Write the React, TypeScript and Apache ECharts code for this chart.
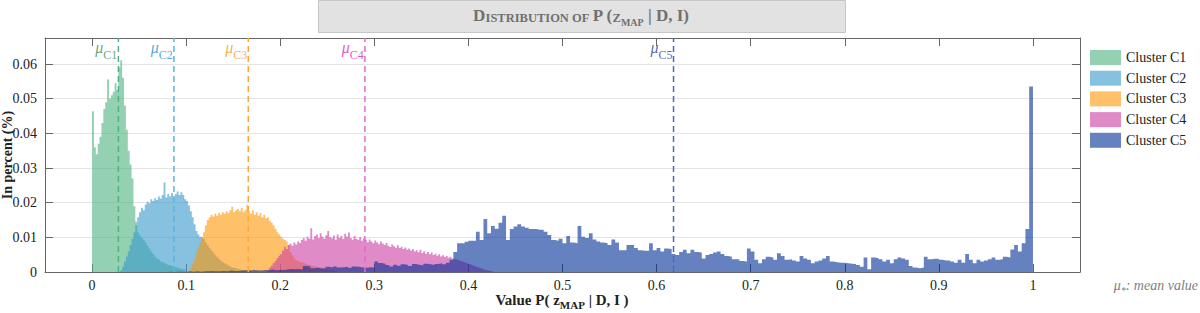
import React, { useEffect, useRef } from "react";
import * as echarts from "echarts";

const SERIF = "Liberation Serif";

const X_TICKS = [0, 0.1, 0.2, 0.3, 0.4, 0.5, 0.6, 0.7, 0.8, 0.9, 1];
const X_MIN = -0.05;
const X_MAX = 1.05;
const Y_MAX = 0.0675;

const CLUSTERS = ["Cluster C1", "Cluster C2", "Cluster C3", "Cluster C4", "Cluster C5"];
const MEAN_SUBS = ["C1", "C2", "C3", "C4", "C5"];
const MEANS = [0.028, 0.087, 0.166, 0.29, 0.618];

// Cluster C1 histogram: bins of 0.002 starting at 0
const C1_START = 0;
const C1_BIN = 0.002;
const C1 = [
  0.0464, 0.036, 0.034, 0.037, 0.039, 0.043, 0.047, 0.049, 0.0555, 0.05,
  0.051, 0.052, 0.0545, 0.0525, 0.059, 0.0611, 0.056, 0.048, 0.041, 0.035,
  0.031, 0.027, 0.019, 0.0145, 0.0115, 0.0105, 0.0098, 0.0092, 0.0085, 0.0076,
  0.0068, 0.006, 0.0052, 0.0045, 0.004, 0.0036, 0.0031, 0.0028, 0.0026, 0.0023,
  0.002, 0.0018, 0.0016, 0.0014, 0.0013, 0.0011, 0.001, 0.0008, 0.0007, 0.0006,
];

// Cluster C2: bins of 0.002 starting at 0.03
const C2_START = 0.03;
const C2_BIN = 0.002;
const C2 = [
  0.0005, 0.0015, 0.003, 0.0045, 0.006, 0.0078, 0.0095, 0.0115, 0.0135, 0.0158,
  0.0172, 0.0185, 0.0178, 0.0195, 0.0203, 0.0198, 0.021, 0.0205, 0.0213, 0.0208,
  0.0218, 0.0212, 0.0222, 0.0258, 0.0215, 0.0225, 0.0218, 0.0228, 0.0215, 0.0225,
  0.0232, 0.0222, 0.023, 0.0222, 0.021, 0.0205, 0.0192, 0.0175, 0.0158, 0.0138,
  0.0118, 0.0108, 0.0102, 0.01, 0.0095, 0.0086, 0.0078, 0.007, 0.0063, 0.0056,
  0.0049, 0.0044, 0.0038, 0.0033, 0.0029, 0.0025, 0.0022, 0.0019, 0.0016, 0.0013,
  0.0012, 0.001, 0.0009, 0.0007, 0.0006, 0.0005, 0.0004, 0.0003, 0.0003, 0.0002,
];

// Cluster C3: bins of 0.002 starting at 0.104
const C3_START = 0.104;
const C3_BIN = 0.002;
const C3 = [
  0.001, 0.0022, 0.0038, 0.0055, 0.0072, 0.0085, 0.0098, 0.0115, 0.0135, 0.015,
  0.0158, 0.0165, 0.016, 0.0168, 0.0162, 0.017, 0.0165, 0.0172, 0.0168, 0.0175,
  0.017, 0.0178, 0.0188, 0.0172, 0.0178, 0.0182, 0.0175, 0.0185, 0.0172, 0.0178,
  0.0194, 0.0175, 0.0168, 0.0178, 0.0165, 0.0172, 0.0162, 0.017, 0.0158, 0.0165,
  0.0155, 0.0158, 0.0148, 0.0142, 0.0135, 0.0125, 0.0115, 0.0108, 0.0102, 0.0096,
  0.0092, 0.0088, 0.0078, 0.0058, 0.0048, 0.004, 0.0035, 0.0032, 0.0029, 0.0027,
  0.0025, 0.0023, 0.0021, 0.002, 0.0018, 0.0017, 0.0016, 0.0015, 0.0014, 0.0013,
  0.0011, 0.001, 0.0008, 0.0006, 0.0005, 0.0004, 0.0003, 0.0002,
];

// Cluster C4: bins of 0.002 starting at 0.186
const C4_START = 0.186;
const C4_BIN = 0.002;
const C4 = [
  0.0005, 0.0012, 0.0018, 0.0025, 0.0032, 0.004, 0.0047, 0.0052, 0.0062, 0.0073,
  0.0066, 0.0078, 0.0082, 0.0076, 0.0085, 0.0079, 0.0088, 0.0084, 0.0092, 0.0098,
  0.009, 0.0102, 0.0096, 0.0126, 0.0094, 0.0104, 0.0108, 0.0098, 0.0112, 0.0102,
  0.0096, 0.0106, 0.0118, 0.0101, 0.0097, 0.0105, 0.0093, 0.0108, 0.0099, 0.0104,
  0.0095, 0.011, 0.0102, 0.0114, 0.0098, 0.0093, 0.0104, 0.0096, 0.0092, 0.0101,
  0.009, 0.0097, 0.0093, 0.0086, 0.0094, 0.0088, 0.0083, 0.0091, 0.0085, 0.008,
  0.0088, 0.0082, 0.0078, 0.0084, 0.0076, 0.0072, 0.0079, 0.0074, 0.007, 0.0077,
  0.0069, 0.0073, 0.0066, 0.0071, 0.0064, 0.0068, 0.0062, 0.0066, 0.0059, 0.0063,
  0.0057, 0.0064, 0.0055, 0.006, 0.0053, 0.0058, 0.0051, 0.0056, 0.0049, 0.0053,
  0.0047, 0.0051, 0.0045, 0.0048, 0.0043, 0.0046, 0.0041, 0.0044, 0.0039, 0.0037,
  0.0036, 0.0034, 0.0032, 0.003, 0.0028, 0.0026, 0.0024, 0.0022, 0.002, 0.0018,
  0.0016, 0.0014, 0.0012, 0.001, 0.0008, 0.0006, 0.0005, 0.0004, 0.0003, 0.0002,
];

// Cluster C5: bins of 0.004 starting at 0
const C5_START = 0;
const C5_BIN = 0.004;
const C5 = [
  0, 0, 0, 0, 0, 0, 0, 0, 0, 0,
  0, 0, 0, 0, 0, 0, 0, 0, 0, 0,
  0.0001, 0, 0.0001, 0.0001, 0, 0.0002, 0.0001, 0.0002, 0.0001, 0.0002,
  0.0002, 0.0003, 0.0002, 0.0002, 0.0003, 0.0002, 0.0004, 0.0003, 0.0003, 0.0004,
  0.0005, 0.0004, 0.0006, 0.0005, 0.0004, 0.0006, 0.0005, 0.0007, 0.0005, 0.0006,
  0.0006, 0.0007, 0.0009, 0.0008, 0.0009, 0.0007, 0.0017, 0.0016, 0.0011, 0.0012,
  0.001, 0.0011, 0.0015, 0.0013, 0.0016, 0.0013, 0.0014, 0.0015, 0.0012, 0.0016,
  0.0015, 0.0013, 0.0012, 0.0014, 0.0013, 0.003, 0.0026, 0.0024, 0.002, 0.0016,
  0.0021, 0.0018, 0.0022, 0.002, 0.0017, 0.0023, 0.0021, 0.0019, 0.0024, 0.0022,
  0.002, 0.0023, 0.0025, 0.0022, 0.0027, 0.0035, 0.0058,
  0.0083, 0.0083, 0.0087, 0.009, 0.009, 0.0116, 0.0092, 0.0153, 0.0112, 0.0133,
  0.0125, 0.0142, 0.0162, 0.0092, 0.0124, 0.0131, 0.0138, 0.0131, 0.0128, 0.0124,
  0.0124, 0.0122, 0.0122, 0.0116, 0.0107, 0.0092, 0.009, 0.0096, 0.0083, 0.0104,
  0.0085, 0.0083, 0.0133, 0.0102, 0.0098, 0.0112, 0.0094, 0.0088, 0.0085, 0.0083,
  0.0078, 0.0094, 0.0085, 0.0063, 0.0063, 0.0078, 0.0078, 0.0069, 0.0063, 0.0061,
  0.0061, 0.0083, 0.0063,
  0.0069, 0.0059, 0.0068, 0.0066, 0.0052, 0.0049, 0.0058, 0.0064, 0.0054, 0.0064,
  0.0058, 0.0056, 0.0039, 0.0049, 0.0052, 0.0056, 0.0059, 0.0052, 0.0046, 0.0044,
  0.0037, 0.0037, 0.0032, 0.003, 0.0068, 0.0059, 0.0035, 0.0025, 0.0037, 0.0044,
  0.0042, 0.0035, 0.0054, 0.0046, 0.0035, 0.0037, 0.0033, 0.003, 0.0046, 0.0039,
  0.0035, 0.0025, 0.003, 0.0033, 0.0039, 0.0046, 0.003, 0.0028, 0.0027, 0.0027,
  0.0025, 0.0024, 0.0023, 0.002, 0.0015, 0.0042, 0.0008, 0.0042, 0.004, 0.0037,
  0.003, 0.0035, 0.0025, 0.0037, 0.0042, 0.0039, 0.0035, 0.0017, 0.0013, 0.0011,
  0.0013, 0.0044, 0.0037, 0.0038, 0.0038, 0.0035, 0.0033, 0.0033, 0.003, 0.0027,
  0.0035, 0.0027, 0.0052, 0.0035, 0.0025, 0.0035, 0.003, 0.0033, 0.0037, 0.0042,
  0.0035, 0.0037, 0.0044, 0.0042, 0.0065, 0.0078, 0.0059, 0.0083, 0.0124, 0.0535,
];

const HISTS = [
  { start: C1_START, bin: C1_BIN, values: C1 },
  { start: C2_START, bin: C2_BIN, values: C2 },
  { start: C3_START, bin: C3_BIN, values: C3 },
  { start: C4_START, bin: C4_BIN, values: C4 },
  { start: C5_START, bin: C5_BIN, values: C5 },
];

const FILLS = [
  "rgba(75,178,127,0.6)",
  "rgba(53,152,203,0.6)",
  "rgba(255,150,7,0.6)",
  "rgba(203,62,163,0.6)",
  "rgba(0,45,150,0.6)",
];
const LINE_COLORS = ["#4db383", "#5ab4e2", "#ffa73a", "#de6ccb", "#4868c4"];
const LABEL_COLORS = ["#3c8f68", "#2f8fd4", "#f29a2c", "#d62ec0", "#2a43a8"];

function stepPoints(start: number, bin: number, vals: number[]) {
  const pts: number[][] = vals.map((v, i) => [start + i * bin, v]);
  pts.push([start + vals.length * bin, 0]);
  return pts;
}

export default function App() {
  const ref = useRef<HTMLDivElement>(null);

  useEffect(() => {
    if (!ref.current) return;
    const chart = echarts.init(ref.current, undefined, { renderer: "svg" });

    const AX = "#666";
    const TITLE_GRAY = "#707070";
    const NOTE_GRAY = "#808080";

    const histSeries = HISTS.map((h, k) => ({
      type: "line",
      name: CLUSTERS[k],
      step: "end",
      data: stepPoints(h.start, h.bin, h.values),
      showSymbol: false,
      symbol: "none",
      silent: true,
      lineStyle: { width: 0, opacity: 0 },
      itemStyle: { color: FILLS[k] },
      areaStyle: { color: FILLS[k], opacity: 1 },
      z: 2,
    }));

    const meanSeries = MEANS.map((m, k) => ({
      type: "line",
      name: "mean " + MEAN_SUBS[k],
      data: [
        [m, 0],
        [m, Y_MAX],
      ],
      symbol: "none",
      silent: true,
      lineStyle: { color: LINE_COLORS[k], width: 1.5, type: [6, 4] },
      z: 3,
    }));

    const rich: Record<string, any> = {};
    LABEL_COLORS.forEach((c, k) => {
      rich["m" + k] = {
        fontFamily: SERIF,
        fontStyle: "italic",
        fontSize: 16,
        color: c,
        verticalAlign: "bottom",
        padding: [0, 0, 6, 0],
      };
      rich["s" + k] = {
        fontFamily: SERIF,
        fontSize: 12,
        color: c,
        verticalAlign: "bottom",
      };
    });

    const labelSeries = {
      type: "scatter",
      name: "mean labels",
      symbolSize: 0.1,
      itemStyle: { color: "transparent" },
      silent: true,
      data: MEANS.map((m, k) => ({
        value: [m, Y_MAX],
        label: { formatter: `{m${k}|μ}{s${k}|${MEAN_SUBS[k]}}` },
      })),
      label: {
        show: true,
        position: "left",
        distance: 1,
        offset: [0, 12],
        rich,
      },
      z: 4,
    };

    const xAxisCommon = {
      type: "value",
      min: X_MIN,
      max: X_MAX,
      axisLine: { show: true, onZero: false, lineStyle: { color: AX, width: 1 } },
      axisTick: {
        show: true,
        inside: true,
        length: 8,
        customValues: X_TICKS,
        lineStyle: { color: AX },
      },
      splitLine: { show: false },
    };
    const yAxisCommon = {
      type: "value",
      min: 0,
      max: Y_MAX,
      interval: 0.01,
      axisLine: { show: true, onZero: false, lineStyle: { color: AX, width: 1 } },
      axisTick: { show: true, inside: true, length: 8, lineStyle: { color: AX } },
    };

    const tStyle = (size: number, color: string, extra: Record<string, any> = {}) => ({
      fontFamily: SERIF,
      fontSize: size,
      fill: color,
      color,
      verticalAlign: "bottom",
      ...extra,
    });

    chart.setOption({
      animation: false,
      backgroundColor: "#ffffff",
      textStyle: { fontFamily: SERIF },
      grid: {
        left: 45,
        right: 120,
        top: 38,
        bottom: 41,
        containLabel: false,
        outerBoundsMode: "none",
      },
      legend: {
        data: CLUSTERS.map((n) => ({ name: n, icon: "rect" })),
        orient: "vertical",
        left: 1090,
        top: 50,
        padding: 0,
        itemWidth: 31,
        itemHeight: 15,
        itemGap: 5.7,
        selectedMode: false,
        textStyle: { fontFamily: SERIF, fontSize: 14, color: "#222" },
      },
      xAxis: [
        {
          ...xAxisCommon,
          position: "bottom",
          axisLabel: {
            customValues: X_TICKS,
            formatter: (v: number) => String(v),
            fontFamily: SERIF,
            fontSize: 14,
            color: "#222",
            margin: 6,
          },
        },
        {
          ...xAxisCommon,
          position: "top",
          axisLabel: { show: false },
        },
      ],
      yAxis: [
        {
          ...yAxisCommon,
          position: "left",
          axisLabel: {
            showMaxLabel: false,
            formatter: (v: number) => (v === 0 ? "0" : String(+v.toFixed(2))),
            fontFamily: SERIF,
            fontSize: 14,
            color: "#222",
            margin: 8,
          },
          splitLine: { show: true, lineStyle: { color: "#e4e4e4", width: 1 } },
          name: "In percent (%)",
          nameLocation: "middle",
          nameGap: 31,
          nameMoveOverlap: false,
          nameTextStyle: {
            fontFamily: SERIF,
            fontSize: 14,
            fontWeight: "bold",
            color: "#222",
          },
        },
        {
          ...yAxisCommon,
          position: "right",
          axisLabel: { show: false },
          splitLine: { show: false },
        },
      ],
      graphic: [
        {
          type: "rect",
          left: 318,
          top: 0,
          shape: { width: 527, height: 32 },
          style: { fill: "#e2e2e2", stroke: "#c6c6c6", lineWidth: 1 },
          silent: true,
        },
        {
          type: "text",
          x: 581,
          y: 17,
          silent: true,
          style: {
            text: "{a|D}{b|ISTRIBUTION OF }{a|P (}{b|Z}{c|MAP}{a| | D, I)}",
            align: "center",
            verticalAlign: "middle",
            fill: TITLE_GRAY,
            rich: {
              a: tStyle(17, TITLE_GRAY, { fontWeight: "bold", padding: [0, 0, 3, 0] }),
              b: tStyle(12.5, TITLE_GRAY, { fontWeight: "bold", padding: [0, 0, 3, 0] }),
              c: tStyle(10, TITLE_GRAY, { fontWeight: "bold" }),
            },
          },
        },
        {
          type: "text",
          x: 562,
          y: 301,
          silent: true,
          style: {
            text: "{a|Value P( z}{s|MAP}{a| | D, I )}",
            align: "center",
            verticalAlign: "middle",
            fill: "#222",
            rich: {
              a: tStyle(15, "#222", { fontWeight: "bold", padding: [0, 0, 3, 0] }),
              s: tStyle(11, "#222", { fontWeight: "bold" }),
            },
          },
        },
        {
          type: "text",
          x: 1198,
          y: 287,
          silent: true,
          style: {
            text: "{m|μ}{s|*}{t|: mean value}",
            align: "right",
            verticalAlign: "middle",
            fill: NOTE_GRAY,
            rich: {
              m: tStyle(14, NOTE_GRAY, { fontStyle: "italic", padding: [0, 0, 3, 0] }),
              s: tStyle(10, NOTE_GRAY, { fontStyle: "italic" }),
              t: tStyle(14, NOTE_GRAY, { fontStyle: "italic", padding: [0, 0, 3, 0] }),
            },
          },
        },
      ],
      series: [...histSeries, ...meanSeries, labelSeries],
    });

    return () => chart.dispose();
  }, []);

  return (
    <div
      ref={ref}
      style={{ position: "absolute", left: 0, top: 0, width: 1200, height: 313 }}
    />
  );
}
